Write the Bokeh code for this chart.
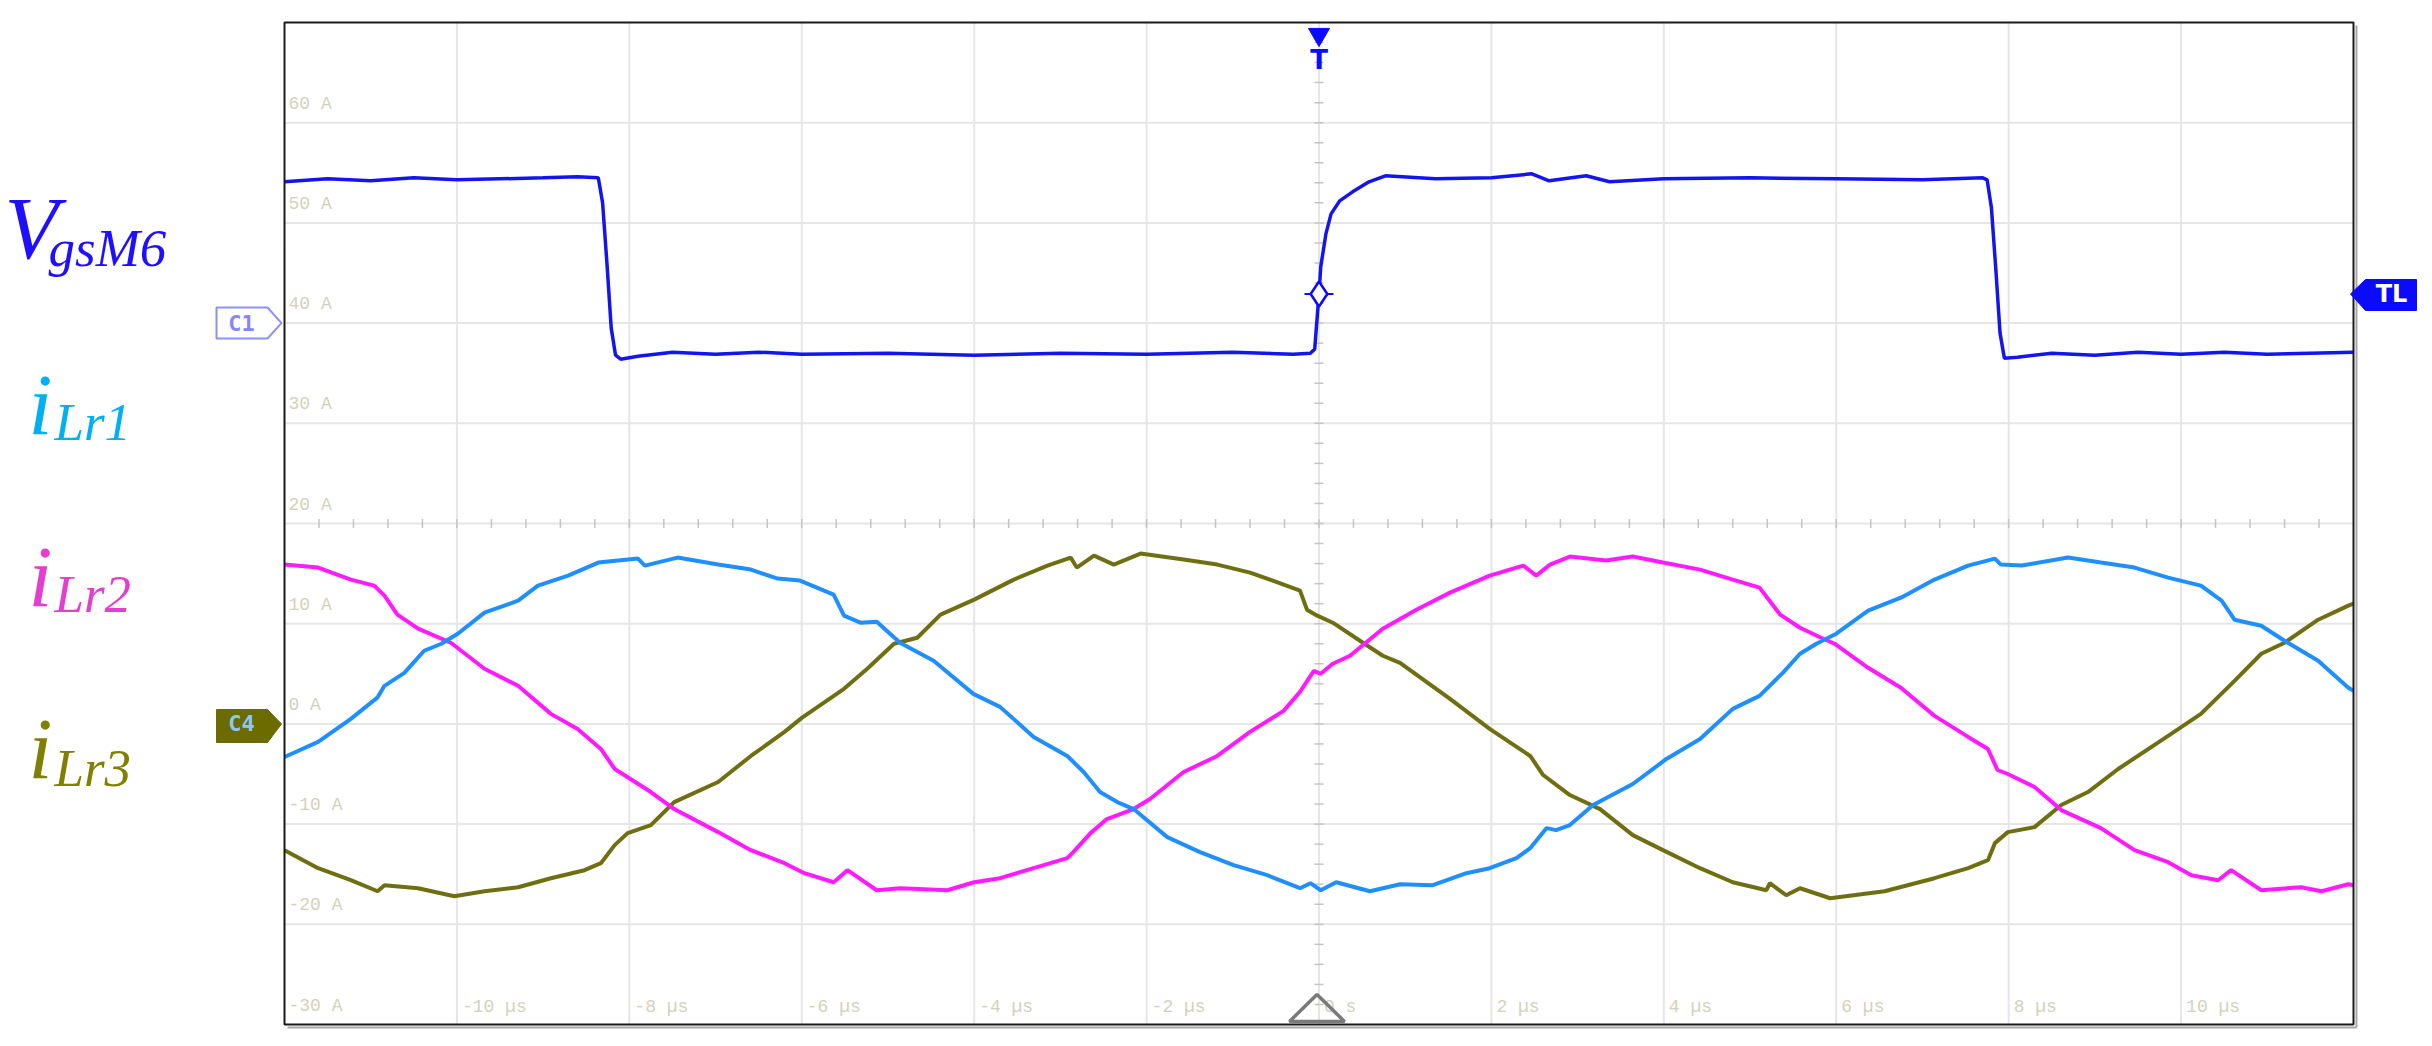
from bokeh.plotting import figure
from bokeh.models import Label, PolyAnnotation, BoxAnnotation, Range1d
from bokeh.embed import file_html
from bokeh.resources import INLINE
from bokeh.core.properties import value

# ---------------- data ----------------
# time axis in microseconds, all channels displayed in "A" divisions
x_ticks = [-10, -8, -6, -4, -2, 0, 2, 4, 6, 8, 10]
x_tick_labels = ["-10 µs", "-8 µs", "-6 µs", "-4 µs", "-2 µs", "0 s",
                 "2 µs", "4 µs", "6 µs", "8 µs", "10 µs"]
y_ticks = [60, 50, 40, 30, 20, 10, 0, -10, -20, -30]
y_tick_labels = ["60 A", "50 A", "40 A", "30 A", "20 A", "10 A", "0 A",
                 "-10 A", "-20 A", "-30 A"]
x_grid = [-10, -8, -6, -4, -2, 0, 2, 4, 6, 8, 10]
y_grid = [60, 50, 40, 30, 20, 10, 0, -10, -20]

trig_level = 42.9
c1_level = 40
c4_level = 0

t_vgs = [-12.0, -11.5, -11.0, -10.5, -10.0, -9.5, -9.0, -8.6, -8.36, -8.31, -8.26, -8.21,
         -8.16, -8.10, -7.9, -7.5, -7.0, -6.5, -6.0, -5.0, -4.0, -3.0, -2.0, -1.0, -0.3,
         -0.1, -0.05, 0.0, 0.02, 0.08, 0.14, 0.24, 0.39, 0.58, 0.77, 1.35, 2.0, 2.47, 2.67,
         3.1, 3.37, 4.0, 5.0, 6.0, 7.0, 7.7, 7.75, 7.80, 7.85, 7.90, 7.95, 8.1, 8.5, 9.0,
         9.5, 10.0, 10.5, 11.0, 11.5, 12.0]
v_vgs = [54.1, 54.4, 54.2, 54.5, 54.3, 54.4, 54.5, 54.6, 54.5, 52.0, 46.0, 39.5,
         36.8, 36.4, 36.7, 37.1, 36.9, 37.1, 36.9, 37.0, 36.8, 37.0, 36.9, 37.1, 36.9,
         37.0, 37.4, 42.9, 45.6, 48.9, 50.9, 52.2, 53.1, 54.1, 54.7, 54.4, 54.5, 54.9, 54.2,
         54.7, 54.1, 54.4, 54.5, 54.4, 54.3, 54.5, 54.3, 51.5, 45.5, 39.0, 36.5, 36.6, 37.0, 36.8,
         37.1, 36.9, 37.1, 36.9, 37.0, 37.1]

t_i1 = [-12.0, -11.61, -11.23, -10.92, -10.84, -10.61, -10.38, -10.18, -9.99, -9.68, -9.29,
        -9.06, -8.71, -8.36, -8.13, -7.9, -7.82, -7.44, -6.97, -6.59, -6.28, -6.02, -5.63,
        -5.51, -5.32, -5.13, -4.86, -4.47, -4.01, -3.70, -3.31, -2.92, -2.73, -2.54, -2.34,
        -2.15, -1.76, -1.38, -0.99, -0.60, -0.22, -0.10, 0.02, 0.20, 0.59, 0.94, 1.32, 1.71,
        1.98, 2.29, 2.45, 2.64, 2.75, 2.91, 3.18, 3.64, 4.03, 4.42, 4.80, 5.11, 5.38, 5.58,
        5.77, 6.00, 6.37, 6.75, 7.14, 7.53, 7.84, 7.91, 8.15, 8.69, 9.07, 9.46, 9.85, 10.23,
        10.47, 10.62, 10.93, 11.20, 11.59, 11.94, 12.0]
i1 = [-3.3, -1.8, 0.5, 2.65, 3.8, 5.1, 7.3, 8.0, 9.0, 11.1, 12.3,
      13.8, 14.8, 16.1, 16.3, 16.5, 15.8, 16.6, 15.9, 15.4, 14.5, 14.3, 12.9,
      10.8, 10.1, 10.2, 8.1, 6.3, 3.0, 1.7, -1.3, -3.2, -4.8, -6.8, -7.8,
      -8.5, -11.3, -12.8, -14.1, -15.1, -16.4, -15.9, -16.6, -15.8, -16.7, -16.0, -16.1, -14.9,
      -14.4, -13.4, -12.4, -10.4, -10.6, -10.1, -8.1, -6.0, -3.5, -1.5, 1.5, 2.8, 5.1, 7.0,
      8.0, 9.0, 11.3, 12.6, 14.4, 15.8, 16.5, 15.9, 15.8, 16.6, 16.1, 15.6, 14.6, 13.8,
      12.3, 10.4, 9.8, 8.3, 6.3, 3.6, 3.3]

t_i2 = [-12.0, -11.61, -11.23, -10.96, -10.84, -10.69, -10.45, -10.07, -9.68, -9.29, -8.91,
        -8.60, -8.33, -8.17, -8.06, -7.75, -7.48, -6.97, -6.59, -6.20, -5.97, -5.63, -5.47,
        -5.13, -4.86, -4.31, -4.00, -3.70, -3.31, -2.92, -2.85, -2.65, -2.46, -2.15, -1.96,
        -1.57, -1.18, -0.80, -0.41, -0.22, -0.06, 0.02, 0.16, 0.36, 0.74, 1.13, 1.52, 1.98,
        2.37, 2.52, 2.68, 2.91, 3.33, 3.64, 3.99, 4.42, 4.80, 5.11, 5.35, 5.58, 5.85, 5.98,
        6.37, 6.75, 7.14, 7.53, 7.76, 7.87, 7.99, 8.30, 8.61, 9.07, 9.46, 9.85, 10.12, 10.43,
        10.58, 10.93, 11.39, 11.63, 11.94, 12.0]
i2 = [15.9, 15.6, 14.4, 13.8, 12.8, 10.9, 9.5, 8.1, 5.5, 3.8, 1.0,
      -0.5, -2.5, -4.5, -5.1, -6.8, -8.5, -10.8, -12.6, -13.9, -14.9, -15.8, -14.6,
      -16.6, -16.4, -16.6, -15.8, -15.4, -14.4, -13.4, -12.8, -10.9, -9.5, -8.5, -7.5,
      -4.8, -3.2, -0.8, 1.3, 3.2, 5.3, 5.0, 6.0, 6.8, 9.5, 11.4, 13.1, 14.8,
      15.8, 14.8, 15.9, 16.7, 16.3, 16.7, 16.1, 15.4, 14.4, 13.6, 10.9, 9.6, 8.5, 8.0,
      5.6, 3.6, 0.8, -1.3, -2.5, -4.6, -5.0, -6.3, -8.6, -10.4, -12.6, -13.8, -15.1, -15.6,
      -14.6, -16.6, -16.3, -16.7, -16.0, -16.1]

t_i3 = [-12.0, -11.61, -11.23, -10.92, -10.84, -10.45, -10.03, -9.68, -9.29, -8.91, -8.52,
        -8.33, -8.17, -8.02, -7.75, -7.48, -6.97, -6.59, -6.20, -6.0, -5.51, -5.24, -4.93,
        -4.66, -4.39, -4.00, -3.54, -3.15, -2.88, -2.81, -2.61, -2.38, -2.07, -1.57, -1.18,
        -0.80, -0.41, -0.22, -0.14, -0.02, 0.16, 0.51, 0.74, 0.94, 1.52, 1.98, 2.45, 2.60,
        2.91, 3.26, 3.64, 3.99, 4.42, 4.80, 5.19, 5.23, 5.42, 5.58, 5.93, 6.56, 7.14, 7.53,
        7.76, 7.84, 7.99, 8.30, 8.61, 8.92, 9.27, 9.85, 10.23, 10.62, 10.93, 11.20, 11.59,
        11.94, 12.0]
i3 = [-12.6, -14.4, -15.6, -16.7, -16.1, -16.4, -17.2, -16.7, -16.3, -15.4, -14.6,
      -13.9, -12.1, -10.9, -10.1, -7.8, -5.8, -3.2, -0.8, 0.6, 3.5, 5.5, 8.0,
      8.6, 10.9, 12.4, 14.4, 15.8, 16.6, 15.6, 16.8, 15.9, 17.0, 16.4, 15.9,
      15.1, 13.9, 13.3, 11.4, 10.8, 10.1, 8.1, 6.8, 6.1, 2.5, -0.5, -3.2, -5.1,
      -7.1, -8.5, -11.1, -12.6, -14.4, -15.8, -16.6, -15.9, -17.1, -16.4, -17.4, -16.7, -15.4, -14.4,
      -13.6, -11.9, -10.8, -10.3, -8.1, -6.8, -4.5, -1.2, 1.0, 4.3, 7.0, 8.1, 10.4,
      11.8, 12.0]

# ---------------- layout ----------------
W, H = 2424, 1040
FL, FR, FT, FB = 284, 2353, 22, 1024   # graticule edges in page pixels
X0, X1 = -12, 12
Y0, Y1 = -30, 70
XS = (X1 - X0) / (FR - FL)
YS = (Y1 - Y0) / (FB - FT)


def cx(px):
    """page x pixel -> data x"""
    return X0 + (px - FL) * XS


def cy(py):
    """page y pixel -> data y"""
    return Y1 - (py - FT) * YS


p = figure(width=W, height=H, x_range=Range1d(cx(0), cx(W)), y_range=Range1d(cy(H), cy(0)),
           x_axis_type=None, y_axis_type=None, output_backend="svg",
           toolbar_location=None, min_border=0, min_border_left=0, min_border_right=0,
           min_border_top=0, min_border_bottom=0)
p.outline_line_color = None
p.background_fill_color = "white"
p.border_fill_color = "white"
p.xgrid.visible = False
p.ygrid.visible = False

# graticule
p.segment(x0=x_grid, x1=x_grid, y0=[Y0] * len(x_grid), y1=[Y1] * len(x_grid),
          line_color="#e6e6e6", line_width=2)
p.segment(x0=[X0] * len(y_grid), x1=[X1] * len(y_grid), y0=y_grid, y1=y_grid,
          line_color="#e6e6e6", line_width=2)

# minor ticks on the centre lines
minor_t = [X0 + 0.4 * k for k in range(1, 60)]
minor_v = [Y0 + 2 * k for k in range(1, 50)]
p.scatter(x=minor_t, y=[20] * len(minor_t), marker="dash", size=9, angle=1.5708,
          line_color="#c4c4c4", line_width=1.5)
p.scatter(x=[0] * len(minor_v), y=minor_v, marker="dash", size=9,
          line_color="#c4c4c4", line_width=1.5)

# shadow (right and bottom) + frame of the graticule
p.segment(x0=[X1 + 3 * XS, X0 + 3 * XS], x1=[X1 + 3 * XS, X1 + 3 * XS],
          y0=[Y1 - 3 * YS, Y0 - 3 * YS], y1=[Y0 - 3 * YS, Y0 - 3 * YS],
          line_color="#a8a8a8", line_width=2)
p.add_layout(BoxAnnotation(left=X0, right=X1, bottom=Y0, top=Y1, fill_alpha=0,
                           line_color="#1a1a1a", line_alpha=1, line_width=2))

# tick labels inside the graticule
lab_font = value("Liberation Mono")
p.text(x=[X0] * len(y_ticks), y=y_ticks, text=y_tick_labels, x_offset=4, y_offset=-19,
       text_baseline="alphabetic", text_font=lab_font, text_font_size="18px",
       text_color="#d2d2ba")
p.text(x=x_ticks, y=[Y0] * len(x_ticks), text=x_tick_labels, x_offset=5, y_offset=-18,
       text_baseline="alphabetic", text_font=lab_font, text_font_size="18px",
       text_color="#d2d2ba")

# traces
p.line(t_vgs, v_vgs, line_color="#1414f0", line_width=3.5)
p.line(t_i3, i3, line_color="#6f6f12", line_width=4)
p.line(t_i2, i2, line_color="#ff1aff", line_width=4)
p.line(t_i1, i1, line_color="#1f8fff", line_width=4)

# trigger decorations
p.scatter(x=[0], y=[cy(34)], marker="inverted_triangle", size=21,
          fill_color="#0a0aff", line_color="#0a0aff")
p.text(x=[0], y=[cy(59)], text=["T"], text_align="center", text_baseline="middle",
       text_font=value("DejaVu Sans"), text_font_style="bold", text_font_size="26px",
       text_color="#0a0aff")
p.scatter(x=[0], y=[trig_level], marker="dash", size=29, line_color="#0a0aff", line_width=2)
p.scatter(x=[0], y=[trig_level], marker="diamond", size=25, fill_color="white",
          line_color="#0a0aff", line_width=2.5)

# bottom time reference triangle
p.add_layout(PolyAnnotation(xs=[cx(1289), cx(1316.5), cx(1344)],
                            ys=[cy(1021), cy(994), cy(1021)],
                            fill_alpha=0, line_color="#7a7a7a", line_alpha=1,
                            line_width=3.5))

# channel markers on the left and trigger level marker on the right
p.add_layout(PolyAnnotation(
    xs=[cx(216), cx(267), cx(281), cx(267), cx(216)],
    ys=[cy(307), cy(307), c1_level, cy(338), cy(338)],
    fill_color="white", fill_alpha=1, line_color="#8f8fff", line_alpha=1, line_width=2))
p.add_layout(Label(x=cx(241), y=c1_level, text="C1", text_align="center",
                   text_baseline="middle", text_font="DejaVu Sans Mono",
                   text_font_style="bold", text_font_size="22px", text_color="#8585ff"))

p.add_layout(PolyAnnotation(
    xs=[cx(216), cx(267), cx(281), cx(267), cx(216)],
    ys=[cy(709), cy(709), c4_level, cy(742), cy(742)],
    fill_color="#6b6b00", fill_alpha=1, line_color="#6b6b00", line_alpha=1, line_width=1))
p.add_layout(Label(x=cx(241), y=c4_level, text="C4", text_align="center",
                   text_baseline="middle", text_font="DejaVu Sans Mono",
                   text_font_style="bold", text_font_size="22px", text_color="#8cc8ff"))

p.add_layout(PolyAnnotation(
    xs=[cx(2350), cx(2365), cx(2416), cx(2416), cx(2365)],
    ys=[trig_level, cy(279), cy(279), cy(310), cy(310)],
    fill_color="#0a0aff", fill_alpha=1, line_color="#0a0aff", line_alpha=1, line_width=1))
p.add_layout(Label(x=cx(2391), y=trig_level, text="TL", text_align="center",
                   text_baseline="middle", text_font="DejaVu Sans",
                   text_font_style="bold", text_font_size="24px", text_color="white"))

# signal names on the left (baseline positions in page px; label text is placed
# with an empirical shift because of how the baseline is rendered)
serif = "Liberation Serif"
names = [("V", "gsM6", "#1f0fff", 257, 267, 88, 0.33),
         ("i", "Lr1", "#00b0f0", 429, 441, 86, 0.29),
         ("i", "Lr2", "#e23fcf", 601, 613, 86, 0.29),
         ("i", "Lr3", "#808000", 773, 787, 86, 0.29)]
SUB = 53
for main, sub, col, base_main, base_sub, size, k in names:
    x_main = 4 if main == "V" else 28
    x_sub = 48 if main == "V" else 54
    p.add_layout(Label(x=cx(x_main), y=cy(base_main - k * size), text=main,
                       text_font=serif, text_font_style="italic",
                       text_font_size=f"{size}px", text_baseline="alphabetic",
                       text_color=col))
    p.add_layout(Label(x=cx(x_sub), y=cy(base_sub - 0.37 * SUB), text=sub, text_font=serif,
                       text_font_style="italic", text_font_size=f"{SUB}px",
                       text_baseline="alphabetic", text_color=col))

open("out.html", "w").write(file_html(p, INLINE))
